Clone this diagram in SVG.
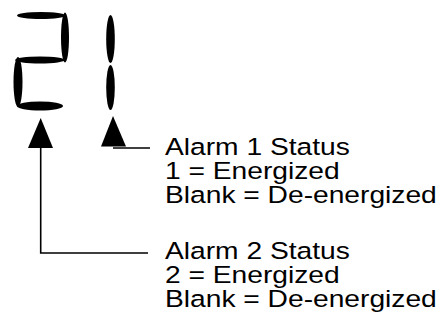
<svg xmlns="http://www.w3.org/2000/svg" width="447" height="332" viewBox="0 0 447 332">
  <style>
    .seg { fill: #000; }
    .wire { fill: none; stroke: #000; stroke-width: 1.6; }
    .head { fill: #000; }
    .lbl { font-family: "Liberation Sans", Arial, Helvetica, sans-serif; font-size: 23.5px; fill: #000; }
  </style>
  <rect width="447" height="332" fill="#fff"/>

  <!-- seven-segment digit "2" -->
  <g id="digit-2">
    <ellipse class="seg" cx="41" cy="15.5" rx="24" ry="3.6"/>
    <ellipse class="seg" cx="65" cy="37.5" rx="4" ry="25"/>
    <ellipse class="seg" cx="40" cy="60" rx="25" ry="3.4"/>
    <ellipse class="seg" cx="18" cy="82" rx="4.5" ry="25"/>
    <ellipse class="seg" cx="40" cy="106" rx="23" ry="4.5"/>
  </g>

  <!-- seven-segment digit "1" -->
  <g id="digit-1">
    <ellipse class="seg" cx="110.5" cy="39" rx="4.3" ry="24"/>
    <ellipse class="seg" cx="110.5" cy="87.5" rx="4.3" ry="22.5"/>
  </g>

  <!-- pointer lines with arrowheads -->
  <g id="connectors">
    <polygon class="head" points="40.7,118 28,148 53,148"/>
    <polyline class="wire" points="40.7,148 40.7,253 148,253"/>
    <polygon class="head" points="113,116 101,146.5 126,146.5"/>
    <polyline class="wire" points="113,148 150,148"/>
  </g>

  <!-- labels use a slightly widened face -->
  <g id="alarm1-label" transform="translate(165,0) scale(1.2,1)">
    <text class="lbl" x="0" y="155">Alarm 1 Status</text>
    <text class="lbl" x="0" y="179">1 = Energized</text>
    <text class="lbl" x="0" y="203">Blank = De-energized</text>
  </g>

  <g id="alarm2-label" transform="translate(165,0) scale(1.2,1)">
    <text class="lbl" x="0" y="259">Alarm 2 Status</text>
    <text class="lbl" x="0" y="283">2 = Energized</text>
    <text class="lbl" x="0" y="307">Blank = De-energized</text>
  </g>
</svg>
